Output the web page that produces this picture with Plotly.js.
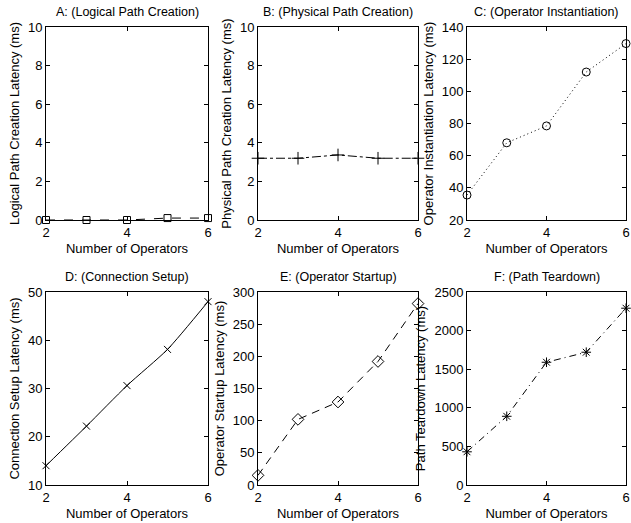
<!DOCTYPE html>
<html>
<head>
<meta charset="utf-8">
<script src="https://cdn.plot.ly/plotly-3.0.1.min.js"></script>
<style>html,body{margin:0;padding:0;background:#fff;}#chart{width:631px;height:523px;}</style>
</head>
<body>
<div id="chart"></div>
<script>
// Data
const operators = [2, 3, 4, 5, 6];
const logicalPathCreation = [0.0, 0.0, 0.0, 0.1, 0.1];
const physicalPathCreation = [3.2, 3.2, 3.37, 3.2, 3.2];
const operatorInstantiation = [35.5, 68, 78.5, 112, 129.7];
const connectionSetup = [14, 22.2, 30.6, 38.1, 48];
const operatorStartup = [15, 102, 129, 192, 282];
const pathTeardown = [430, 890, 1590, 1720, 2290];

const panelTitles = ["A: (Logical Path Creation)", "B: (Physical Path Creation)", "C: (Operator Instantiation)",
                     "D: (Connection Setup)", "E: (Operator Startup)", "F: (Path Teardown)"];
const yTitles = ["Logical Path Creation Latency (ms)", "Physical Path Creation Latency (ms)", "Operator Instantiation Latency (ms)",
                 "Connection Setup Latency (ms)", "Operator Startup Latency (ms)", "Path Teardown Latency (ms)"];
const xTitle = "Number of Operators";

const series = [logicalPathCreation, physicalPathCreation, operatorInstantiation, connectionSetup, operatorStartup, pathTeardown];
const dashes = ["dash", "dashdot", "1px,3px", "solid", "8px,6px", "7px,4px,1px,4px"];
const shapes = ["linear", "linear", "linear", "spline", "linear", "linear"];
const symbols = ["square-open", "cross-thin-open", "circle-open", "x-thin-open", "diamond-open", "asterisk-open"];
const msizes = [7, 9, 8, 7, 9, 8];
const yRanges = [[0, 10], [0, 10], [20, 140], [10, 50], [0, 300], [0, 2500]];
const yDticks = [2, 2, 20, 10, 50, 500];

const W = 631, H = 523;
const colPx = [[46, 208], [258, 418], [467, 626]];
const rowPx = [[27, 220], [292, 485]];

const font = {family: "Liberation Sans, Arial, Helvetica, sans-serif", size: 13, color: "#000"};
const traces = [];
const layout = {
  width: W, height: H,
  margin: {l: 0, r: 0, t: 0, b: 0},
  paper_bgcolor: "#fff", plot_bgcolor: "#fff",
  showlegend: false,
  font: font,
  annotations: []
};

for (let i = 0; i < 6; i++) {
  const c = i % 3, r = Math.floor(i / 3);
  const n = i + 1;
  const xa = n === 1 ? "x" : "x" + n;
  const ya = n === 1 ? "y" : "y" + n;
  traces.push({
    x: operators, y: series[i], xaxis: xa, yaxis: ya,
    type: "scatter", mode: "lines+markers", cliponaxis: false,
    line: {color: "#000", width: 1, dash: dashes[i], shape: shapes[i], smoothing: 0.6},
    marker: {symbol: symbols[i], size: msizes[i], color: "#000", line: {color: "#000", width: 1}}
  });
  const common = {
    showline: true, mirror: "ticks", linecolor: "#000", linewidth: 1,
    ticks: "inside", ticklen: 4, tickcolor: "#000", tickwidth: 1,
    showgrid: false, zeroline: false, fixedrange: true,
    tickfont: font, ticklabeloverflow: "allow"
  };
  layout["xaxis" + (n === 1 ? "" : n)] = Object.assign({}, common, {
    domain: [colPx[c][0] / W, colPx[c][1] / W],
    anchor: ya, range: [2, 6], dtick: 2, tick0: 2,
    title: {text: xTitle, font: font, standoff: 5}
  });
  layout["yaxis" + (n === 1 ? "" : n)] = Object.assign({}, common, {
    domain: [1 - rowPx[r][1] / H, 1 - rowPx[r][0] / H],
    anchor: xa, range: yRanges[i], dtick: yDticks[i], tick0: 0,
    title: {text: yTitles[i], font: font, standoff: 5}
  });
  layout.annotations.push({
    text: panelTitles[i], xref: "paper", yref: "paper",
    x: (colPx[c][0] + colPx[c][1]) / 2 / W, y: 1 - (rowPx[r][0] - 6) / H,
    xanchor: "center", yanchor: "bottom", showarrow: false,
    font: {family: font.family, size: 12.5, color: "#000"}
  });
}

Plotly.newPlot("chart", traces, layout, {staticPlot: true, displayModeBar: false});
</script>
</body>
</html>
